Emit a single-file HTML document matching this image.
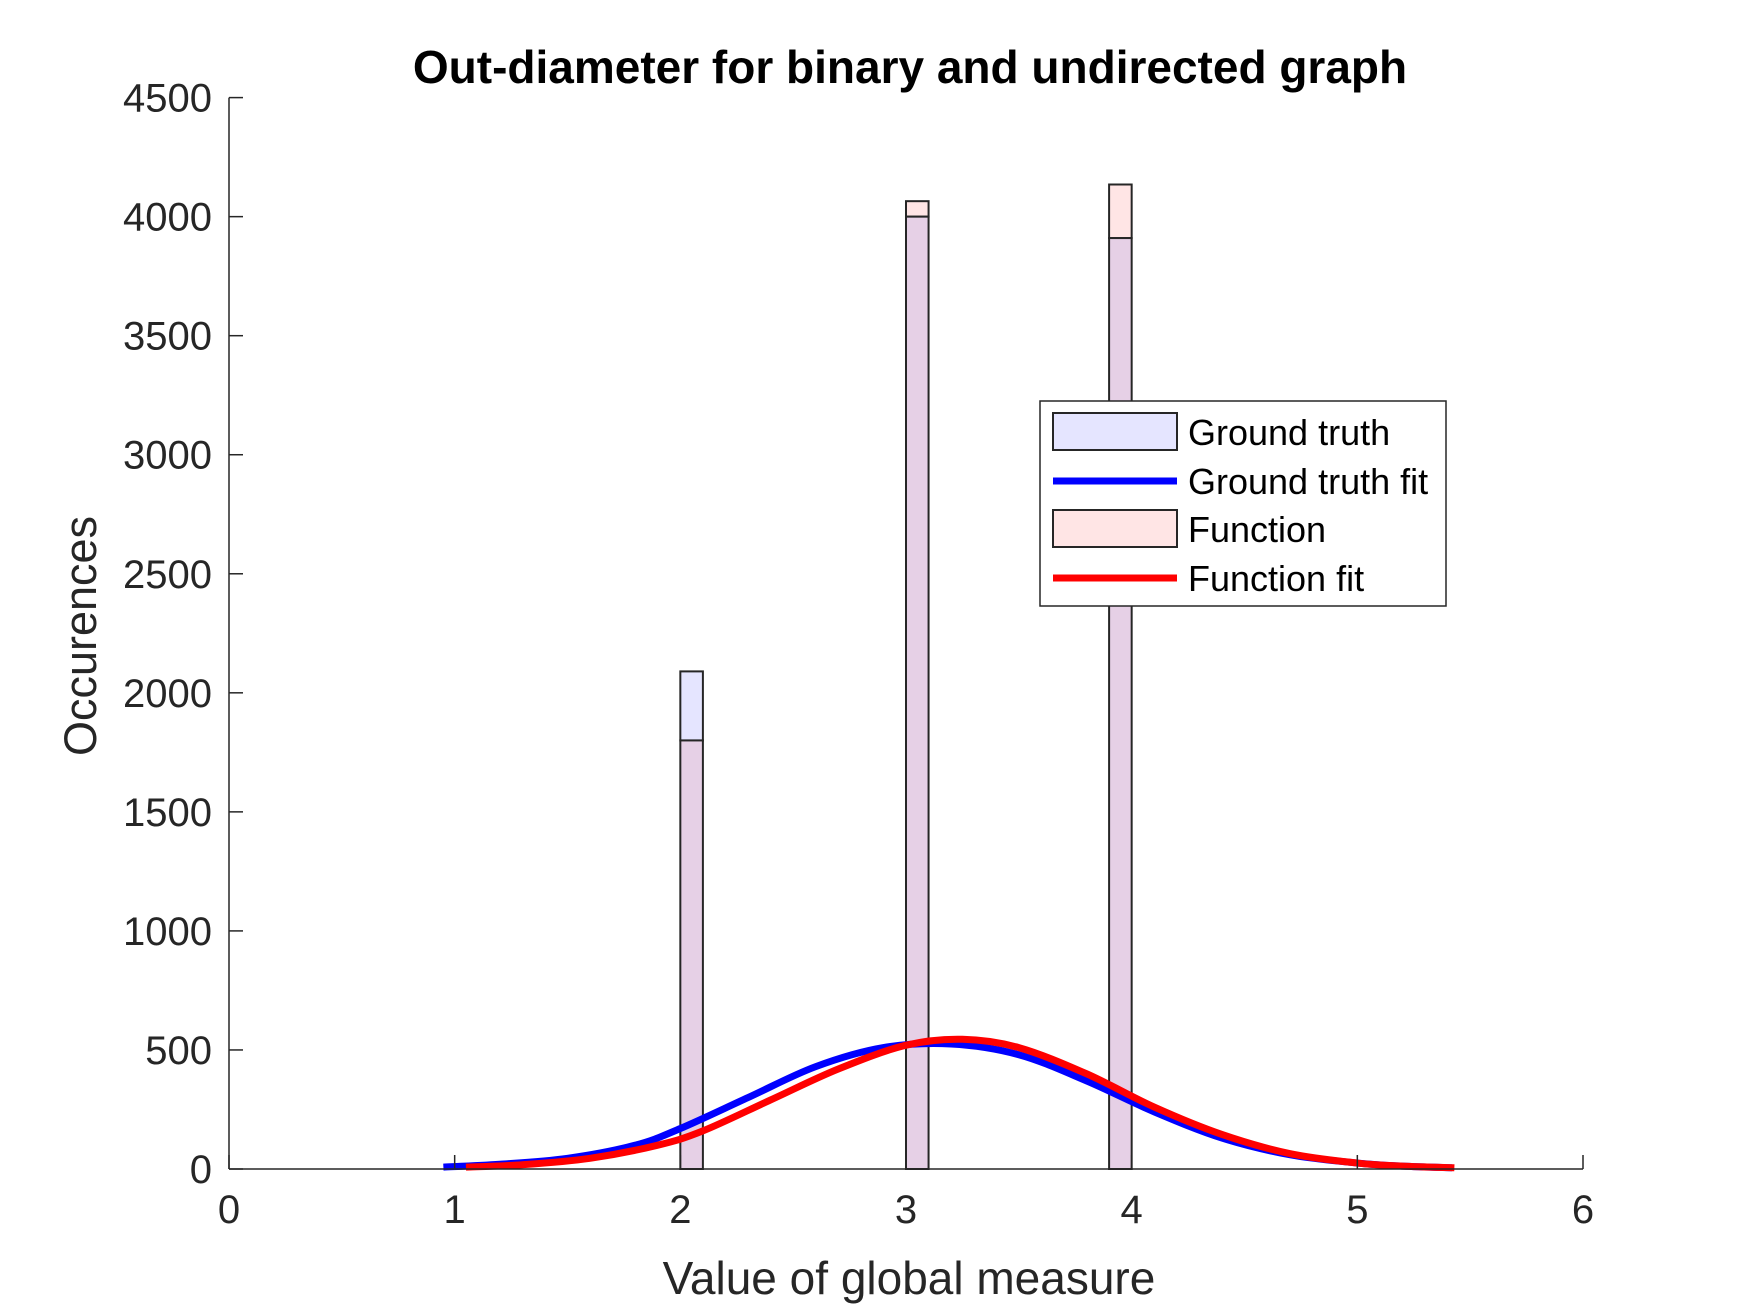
<!DOCTYPE html>
<html><head><meta charset="utf-8"><style>
html,body{margin:0;padding:0;background:#fff}
svg{display:block;font-family:"Liberation Sans",Arial,sans-serif}
</style></head><body>
<svg id="chart" width="1750" height="1313" viewBox="0 0 1750 1313" xmlns="http://www.w3.org/2000/svg">
<rect width="1750" height="1313" fill="#fff"/>
<g id="bars"></g>
<g id="curves"></g>
<g id="axes"></g>
<text x="910" y="83" text-anchor="middle" font-size="46" font-weight="bold" fill="#000">Out-diameter for binary and undirected graph</text>
<text x="909" y="1294" text-anchor="middle" font-size="46" fill="#262626">Value of global measure</text>
<text transform="translate(96,636) rotate(-90)" text-anchor="middle" font-size="45" fill="#262626">Occurences</text>
<g>
<rect x="1040" y="401" width="406" height="205" fill="#fff" stroke="#262626" stroke-width="1.5"/>
<rect x="1053" y="413" width="124" height="37" fill="#e5e5ff" stroke="#262626" stroke-width="2"/>
<text x="1188" y="445" font-size="36" fill="#000">Ground truth</text>
<line x1="1053" y1="481" x2="1177" y2="481" stroke="#0000ff" stroke-width="7"/>
<text x="1188" y="494" font-size="36" fill="#000">Ground truth fit</text>
<rect x="1053" y="510" width="124" height="37" fill="#ffe5e5" stroke="#262626" stroke-width="2"/>
<text x="1188" y="542" font-size="36" fill="#000">Function</text>
<line x1="1053" y1="578" x2="1177" y2="578" stroke="#ff0000" stroke-width="7"/>
<text x="1188" y="591" font-size="36" fill="#000">Function fit</text>
</g>
</svg>
<script>
const binStarts = [2.0, 3.0, 3.9];
const binWidth = 0.1;
const groundTruthCounts = [2090, 4000, 3910];
const functionCounts = [1800, 4065, 4135];
const gtFitX = [0.95,1.2,1.5,1.8,2.0,2.3,2.6,2.9,3.2,3.5,3.8,4.1,4.4,4.7,5.0,5.2,5.42];
const gtFitY = [8,20,45,100,170,300,430,510,525,480,370,240,130,60,25,12,5];
const fnFitX = [1.05,1.3,1.6,1.9,2.1,2.4,2.7,3.0,3.25,3.5,3.8,4.1,4.4,4.7,5.0,5.2,5.43];
const fnFitY = [8,18,45,100,160,290,420,520,545,510,400,260,145,65,25,12,5];
const xTicks = [0,1,2,3,4,5,6];
const yTicks = [0,500,1000,1500,2000,2500,3000,3500,4000,4500];

const X0=229, X1=1583, Y0=1169, Y1=97.6;
const sx = v => X0 + (v-0)/(6-0)*(X1-X0);
const sy = v => Y0 - v/4500*(Y0-Y1);
const NS="http://www.w3.org/2000/svg";
function mk(tag, attrs, parent){const e=document.createElementNS(NS,tag);for(const k in attrs)e.setAttribute(k,attrs[k]);parent.appendChild(e);return e;}
const bars=document.getElementById('bars');
binStarts.forEach((b,i)=>{
  const x=sx(b), w=sx(b+binWidth)-sx(b);
  const g=groundTruthCounts[i], f=functionCounts[i];
  const lo=Math.min(g,f), hi=Math.max(g,f);
  const topColor = g>f ? '#e5e5ff' : '#ffe5e5';
  let r=mk('rect',{x:x,y:sy(hi),width:w,height:sy(lo)-sy(hi),fill:topColor,stroke:'#262626','stroke-width':2},bars);
  
  
  let o=mk('rect',{x:x,y:sy(lo),width:w,height:sy(0)-sy(lo),fill:'#e6d0e6',stroke:'#262626','stroke-width':2},bars);
  
  
});
const curves=document.getElementById('curves');
function line(xs,ys,color){
  const p=xs.map((x,i)=>[sx(x),sy(ys[i])]);
  let d='M'+p[0][0]+','+p[0][1];
  for(let i=0;i<p.length-1;i++){
    const p0=p[Math.max(0,i-1)],p1=p[i],p2=p[i+1],p3=p[Math.min(p.length-1,i+2)];
    const c1=[p1[0]+(p2[0]-p0[0])/6,p1[1]+(p2[1]-p0[1])/6];
    const c2=[p2[0]-(p3[0]-p1[0])/6,p2[1]-(p3[1]-p1[1])/6];
    d+=' C'+c1[0]+','+c1[1]+' '+c2[0]+','+c2[1]+' '+p2[0]+','+p2[1];
  }
  return mk('path',{d:d,fill:'none',stroke:color,'stroke-width':7,'stroke-linejoin':'round'},curves);
}
const l1=line(gtFitX,gtFitY,'#0000ff');


const l2=line(fnFitX,fnFitY,'#ff0000');


const axes=document.getElementById('axes');
const xa=mk('line',{x1:X0,y1:Y0,x2:X1,y2:Y0,stroke:'#262626','stroke-width':1.5},axes);


const ya=mk('line',{x1:X0,y1:Y0,x2:X0,y2:Y1,stroke:'#262626','stroke-width':1.5},axes);


xTicks.forEach(t=>{
  mk('line',{x1:sx(t),y1:Y0,x2:sx(t),y2:Y0-14,stroke:'#262626','stroke-width':1.5},axes);
  const tx=mk('text',{x:sx(t),y:Y0+54,'text-anchor':'middle','font-size':40,fill:'#262626'},axes);
  tx.textContent=t;
  
  
});
yTicks.forEach(t=>{
  mk('line',{x1:X0,y1:sy(t),x2:X0+14,y2:sy(t),stroke:'#262626','stroke-width':1.5},axes);
  const tx=mk('text',{x:X0-17,y:sy(t)+14,'text-anchor':'end','font-size':40,fill:'#262626'},axes);
  tx.textContent=t;
  
  
});
</script>
</body></html>
